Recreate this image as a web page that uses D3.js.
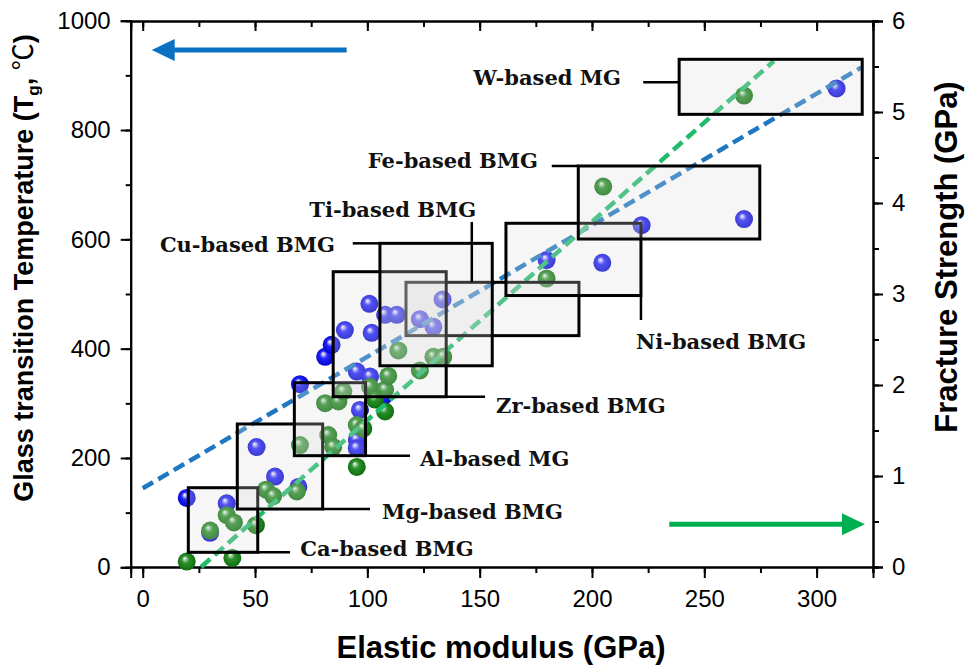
<!DOCTYPE html>
<html>
<head>
<meta charset="utf-8">
<script src="https://cdn.jsdelivr.net/npm/d3@7/dist/d3.min.js"></script>
<style>
  html, body { margin: 0; padding: 0; background: #fff; }
  svg { display: block; }
  .tick text { font-family: "Liberation Sans", Arial, sans-serif; font-size: 24px; fill: #000; }
  .domain, .tick line { stroke: #000; stroke-width: 2; }
  .label { font-family: "DejaVu Serif", serif; font-weight: bold; font-size: 21px; fill: #111; }
  .title { font-family: "Liberation Sans", Arial, sans-serif; font-weight: bold; fill: #000; }
</style>
</head>
<body>
<svg id="chart" width="965" height="667"></svg>
<script>
// Elastic modulus (GPa) vs glass transition temperature (left) and fracture strength (right)
const tgModulus = [19.6, 37.4, 30, 50.7, 58.9, 69.3, 70, 81.2, 84.1, 90, 100.9, 101.9, 107.9, 113.1,
  123.4, 129.4, 133.5, 95.3, 101.2, 107.1, 96.7, 95.3, 95.3, 179.8, 204.6, 222.1, 267.7, 308.9];
const tgValues = [127, 117, 63, 220, 166, 147, 335, 385, 407, 434, 482, 429, 462, 462,
  454, 440, 490, 358, 349, 312, 288, 233, 218, 562, 557, 626, 637, 876];

const fsModulus = [19.6, 39.9, 30, 37.4, 40.6, 50.4, 54.9, 58.1, 68.6, 70, 82.6, 84.8, 95.3, 98.2, 95.3,
  81.2, 87.1, 89.3, 101.2, 107.9, 103.4, 107.9, 109.3, 113.8, 123.4, 129.4, 133.8, 179.8, 205, 267.7];
const fsValues = [0.06, 0.10, 0.40, 0.57, 0.49, 0.46, 0.85, 0.78, 0.83, 1.34, 1.45, 1.32, 1.56, 1.52, 1.10,
  1.80, 1.82, 1.93, 1.98, 1.95, 1.84, 1.71, 2.10, 2.38, 2.16, 2.31, 2.31, 3.17, 4.18, 5.18];

// dashed trend lines, endpoints [modulus, value]
const tgFit = [[0, 144.5], [320, 914.7]];
const fsFit = [[26, 0], [281, 5.56]];

// alloy family boxes: modulus range, Tg range
const families = ["Ti-based BMG", "Ca-based BMG", "Mg-based BMG", "Al-based MG", "Zr-based BMG",
  "Cu-based BMG", "Ni-based BMG", "Fe-based BMG", "W-based MG"];
const boxModulus = [[117.2, 194.2], [20.3, 51.2], [42.1, 80.1], [67.5, 99.2], [84.8, 135.1],
  [105.6, 155.6], [161.7, 221.8], [193.9, 274.7], [238.8, 320.3]];
const boxTg = [[423.8, 521.4], [27.4, 145.6], [106.6, 262.2], [204.2, 337.7], [312.1, 540.8],
  [368.7, 592.7], [497.2, 629.4], [600.6, 734.2], [828.7, 929.4]];
// leader lines [[modulus, Tg], [modulus, Tg]] and label anchors [modulus, Tg, anchor]
const leaders = [[[146.5, 521.4], [146.5, 631.7]], [[51.2, 27.4], [65.6, 27.4]], [[80.1, 106.6], [101.2, 106.6]],
  [[99.2, 204.2], [119, 204.2]], [[135.1, 312.1], [152.4, 312.1]], [[105.6, 592.7], [93.5, 592.7]],
  [[221.8, 497.2], [221.8, 452.4]], [[193.9, 734.2], [182.1, 734.2]], [[238.8, 887.3], [222.8, 887.3]]];
const labelPos = [[148.4, 654, "end"], [70.1, 35.3, "start"], [106.5, 103, "start"], [123.4, 200, "start"],
  [157.3, 297, "start"], [85.6, 591.5, "end"], [219.6, 414, "start"], [176, 745, "end"], [212.9, 897, "end"]];

// direction arrows: [modulus, value] start -> tip
const tgArrow = [[90.8, 946.4], [4, 946.4]];
const fsArrow = [[234.4, 0.469], [321.5, 0.469]];

const svg = d3.select("#chart");
const plot = { left: 130.7, right: 873, top: 21, bottom: 567 };

const x = d3.scaleLinear().domain([-5.35, 325.1]).range([plot.left, plot.right]);
const yL = d3.scaleLinear().domain([0, 1000]).range([567.3, 20.7]);
const yR = d3.scaleLinear().domain([0, 6]).range([567, 21]);

// sphere gradients
const defs = svg.append("defs");
function sphere(id, stops) {
  const g = defs.append("radialGradient").attr("id", id)
    .attr("cx", "50%").attr("cy", "50%").attr("r", "55%").attr("fx", "38%").attr("fy", "32%");
  stops.forEach(([o, c]) => g.append("stop").attr("offset", o).attr("stop-color", c));
}
sphere("blueBall", [["0%", "#ffffff"], ["12%", "#c4c4ff"], ["38%", "#2424ff"], ["100%", "#0000c4"]]);
sphere("greenBall", [["0%", "#ffffff"], ["12%", "#b0d8b0"], ["38%", "#2b902b"], ["100%", "#0c6a0c"]]);

// axes
const xMajor = d3.range(0, 301, 50);
const xMinor = d3.range(0, 326, 25);
const lMajor = d3.range(0, 1001, 200);
const lMinor = d3.range(0, 1001, 100);
const rMajor = d3.range(0, 7, 1);
const rMinor = d3.range(0, 6.01, 0.5);

const axes = svg.append("g");
axes.append("g").attr("transform", `translate(0,${plot.bottom})`)
  .call(d3.axisBottom(x).tickValues(xMinor).tickSize(6).tickFormat(""));
axes.append("g").attr("transform", `translate(0,${plot.bottom})`)
  .call(d3.axisBottom(x).tickValues(xMajor).tickSize(11).tickPadding(12).tickFormat(d3.format("d")));
axes.append("g").attr("transform", `translate(0,${plot.top})`)
  .call(d3.axisBottom(x).tickValues(xMinor).tickSize(6).tickFormat(""));
axes.append("g").attr("transform", `translate(0,${plot.top})`)
  .call(d3.axisBottom(x).tickValues(xMajor).tickSize(10).tickFormat(""));
axes.append("g").attr("transform", `translate(${plot.left},0)`)
  .call(d3.axisLeft(yL).tickValues(lMinor).tickSize(5).tickFormat(""));
axes.append("g").attr("transform", `translate(${plot.left},0)`)
  .call(d3.axisLeft(yL).tickValues(lMajor).tickSize(10).tickPadding(10).tickFormat(d3.format("d")));
axes.append("g").attr("transform", `translate(${plot.right},0)`)
  .call(d3.axisRight(yR).tickValues(rMinor).tickSize(6).tickFormat(""));
axes.append("g").attr("transform", `translate(${plot.right},0)`)
  .call(d3.axisRight(yR).tickValues(rMajor).tickSize(10).tickPadding(9).tickFormat(d3.format("d")));
axes.selectAll(".domain").attr("stroke-width", 2);
axes.selectAll(".tick text").attr("font-family", null).attr("font-size", null);

// points
const pts = svg.append("g");
pts.selectAll("circle.tg").data(d3.zip(tgModulus, tgValues)).join("circle")
  .attr("class", "tg").attr("cx", d => x(d[0])).attr("cy", d => yL(d[1])).attr("r", 9)
  .attr("fill", "url(#blueBall)");
pts.selectAll("circle.fs").data(d3.zip(fsModulus, fsValues)).join("circle")
  .attr("class", "fs").attr("cx", d => x(d[0])).attr("cy", d => yR(d[1])).attr("r", 9)
  .attr("fill", "url(#greenBall)");

// trend lines
svg.append("path").datum(tgFit)
  .attr("d", d3.line().x(d => x(d[0])).y(d => yL(d[1])))
  .attr("fill", "none").attr("stroke", "#1f77c2").attr("stroke-width", 4.5).attr("stroke-dasharray", "12,6");
svg.append("path").datum(fsFit)
  .attr("d", d3.line().x(d => x(d[0])).y(d => yR(d[1])))
  .attr("fill", "none").attr("stroke", "#22bb6c").attr("stroke-width", 4.5).attr("stroke-dasharray", "12,6");

// family boxes
const boxes = svg.append("g");
families.forEach((name, i) => {
  const [e0, e1] = boxModulus[i];
  const [t0, t1] = boxTg[i];
  boxes.append("rect")
    .attr("x", x(e0)).attr("y", yL(t1))
    .attr("width", x(e1) - x(e0)).attr("height", yL(t0) - yL(t1))
    .attr("fill", "#dcdcdc").attr("fill-opacity", 0.25)
    .attr("stroke", "#000").attr("stroke-width", 3);
});

// leaders and labels
const notes = svg.append("g");
leaders.forEach(seg => {
  notes.append("line")
    .attr("x1", x(seg[0][0])).attr("y1", yL(seg[0][1]))
    .attr("x2", x(seg[1][0])).attr("y2", yL(seg[1][1]))
    .attr("stroke", "#000").attr("stroke-width", 2.5);
});
families.forEach((name, i) => {
  const [e, t, anchor] = labelPos[i];
  notes.append("text").attr("class", "label")
    .attr("x", x(e)).attr("y", yL(t)).attr("dy", "0.36em")
    .attr("text-anchor", anchor).text(name);
});

// arrows
function arrow(pts, ys, color) {
  const [p0, p1] = pts.map(p => [x(p[0]), ys(p[1])]);
  const dir = Math.sign(p1[0] - p0[0]);
  const headLen = 23, headHalf = 11;
  svg.append("line").attr("x1", p0[0]).attr("y1", p0[1]).attr("x2", p1[0] - dir * headLen + dir * 2).attr("y2", p1[1])
    .attr("stroke", color).attr("stroke-width", 5);
  svg.append("path")
    .attr("d", `M${p1[0]},${p1[1]} L${p1[0] - dir * headLen},${p1[1] - headHalf} L${p1[0] - dir * headLen},${p1[1] + headHalf} Z`)
    .attr("fill", color);
}
arrow(tgArrow, yL, "#0a70c2");
arrow(fsArrow, yR, "#00b050");

// axis titles
svg.append("text").attr("class", "title").attr("font-size", 31)
  .attr("x", 501).attr("y", 658).attr("text-anchor", "middle").text("Elastic modulus (GPa)");

const lt = svg.append("text").attr("class", "title").attr("font-size", 27)
  .attr("transform", "translate(33,268) rotate(-90)").attr("text-anchor", "middle");
lt.append("tspan").text("Glass transition Temperature (T");
lt.append("tspan").attr("font-size", 17).attr("dy", 6).text("g");
lt.append("tspan").attr("dy", -6).text(", ");
lt.append("tspan").attr("font-weight", "normal").attr("font-family", "'Noto Sans CJK SC', sans-serif").text("℃");
lt.append("tspan").text(")");

svg.append("text").attr("class", "title").attr("font-size", 31)
  .attr("transform", "translate(957,257) rotate(-90)").attr("text-anchor", "middle")
  .text("Fracture Strength (GPa)");
</script>
</body>
</html>
